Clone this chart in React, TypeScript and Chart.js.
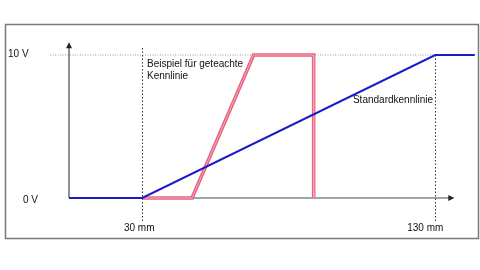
import React, { useEffect, useRef } from "react";
import { Chart, registerables } from "chart.js";

Chart.register(...registerables);

const standardX = [5, 30, 130, 143.5];
const standardY = [0, 0, 10, 10];
const taughtX = [30, 47, 68, 88.5, 88.5];
const taughtY = [0, 0, 10, 10, 0];
const xTickValues = [30, 130];
const xTickLabels = ["30 mm", "130 mm"];
const yTickValues = [0, 10];
const yTickLabels = ["0 V", "10 V"];
const taughtLabel = ["Beispiel für geteachte", "Kennlinie"];
const standardLabel = "Standardkennlinie";

const FONT = '10px "Liberation Sans", Arial, sans-serif';

const decor = {
  id: "decor",
  beforeDatasetsDraw(chart: any) {
    const ctx = chart.ctx;
    const xs = chart.scales.x;
    const ys = chart.scales.y;
    const x0 = xs.getPixelForValue(5);
    const y0 = ys.getPixelForValue(0);
    ctx.save();
    ctx.strokeStyle = "#7a7a7a";
    ctx.lineWidth = 1.5;
    ctx.strokeRect(5.5, 24.5, 473, 214);
    const y10 = ys.getPixelForValue(yTickValues[1]);
    ctx.strokeStyle = "#9a9a9a";
    ctx.lineWidth = 1;
    ctx.setLineDash([1, 1.5]);
    ctx.beginPath();
    ctx.moveTo(50, y10);
    ctx.lineTo(xs.getPixelForValue(xTickValues[1]), y10);
    ctx.stroke();
    ctx.strokeStyle = "#333";
    ctx.setLineDash([1.5, 2]);
    ctx.beginPath();
    const xa = Math.round(xs.getPixelForValue(xTickValues[0])) + 0.5;
    ctx.moveTo(xa, 48);
    ctx.lineTo(xa, 222);
    const xb = Math.round(xs.getPixelForValue(xTickValues[1])) + 0.5;
    ctx.moveTo(xb, y10);
    ctx.lineTo(xb, 222);
    ctx.stroke();
    ctx.setLineDash([]);
    ctx.strokeStyle = "#4a4a4a";
    ctx.fillStyle = "#222";
    ctx.lineWidth = 1.2;
    const xEnd = xs.getPixelForValue(136.5);
    const yTop = ys.getPixelForValue(10.9);
    ctx.beginPath();
    ctx.moveTo(x0, y0);
    ctx.lineTo(xEnd - 4, y0);
    ctx.moveTo(x0, y0);
    ctx.lineTo(x0, yTop + 4);
    ctx.stroke();
    ctx.beginPath();
    ctx.moveTo(xEnd, y0);
    ctx.lineTo(xEnd - 6, y0 - 3);
    ctx.lineTo(xEnd - 6, y0 + 3);
    ctx.closePath();
    ctx.fill();
    ctx.beginPath();
    ctx.moveTo(x0, yTop);
    ctx.lineTo(x0 - 3, yTop + 6);
    ctx.lineTo(x0 + 3, yTop + 6);
    ctx.closePath();
    ctx.fill();
    ctx.restore();
  },
  afterDraw(chart: any) {
    const ctx = chart.ctx;
    const xs = chart.scales.x;
    const ys = chart.scales.y;
    ctx.save();
    ctx.font = FONT;
    ctx.fillStyle = "#111";
    ctx.textBaseline = "middle";
    ctx.textAlign = "left";
    ctx.fillText(yTickLabels[1], 8, ys.getPixelForValue(yTickValues[1]) - 1);
    ctx.fillText(yTickLabels[0], 23, ys.getPixelForValue(yTickValues[0]) + 2);
    ctx.textAlign = "center";
    ctx.fillText(xTickLabels[0], xs.getPixelForValue(xTickValues[0]) - 3, 228);
    ctx.fillText(xTickLabels[1], xs.getPixelForValue(xTickValues[1]) - 10, 228);
    ctx.textAlign = "left";
    ctx.fillText(taughtLabel[0], 147, 64);
    ctx.fillText(taughtLabel[1], 147, 76);
    ctx.textAlign = "right";
    ctx.fillText(standardLabel, 433, 100);
    ctx.restore();
  },
};

export default function App() {
  const ref = useRef<HTMLCanvasElement>(null);
  useEffect(() => {
    if (!ref.current) return;
    const chart = new Chart(ref.current, {
      type: "line",
      data: {
        datasets: [
          {
            data: taughtX.map((x, i) => ({ x, y: taughtY[i] })),
            borderColor: "#e8607e",
            borderWidth: 3.6,
            pointRadius: 0,
            fill: false,
            tension: 0,
            clip: false,
            order: 3,
          } as any,
          {
            data: taughtX.map((x, i) => ({ x, y: taughtY[i] })),
            borderColor: "#f4aabb",
            borderWidth: 1,
            pointRadius: 0,
            fill: false,
            tension: 0,
            clip: false,
            order: 2,
          } as any,
          {
            data: standardX.map((x, i) => ({ x, y: standardY[i] })),
            borderColor: "#1a1ac8",
            borderWidth: 2,
            pointRadius: 0,
            fill: false,
            tension: 0,
            clip: false,
            order: 1,
          } as any,
        ],
      },
      options: {
        responsive: false,
        animation: false,
        layout: { padding: { left: 69, right: 480 - (69 + 139 * 2.93), top: 198 - 11 * 14.3, bottom: 72 } },
        scales: {
          x: { type: "linear", min: 5, max: 144, display: false },
          y: { type: "linear", min: 0, max: 11, display: false },
        },
        plugins: { legend: { display: false }, tooltip: { enabled: false } },
      },
      plugins: [decor],
    });
    return () => chart.destroy();
  }, []);
  return (
    <div style={{ position: "fixed", left: 0, top: 0, width: 480, height: 270, background: "#fff" }}>
      <canvas ref={ref} width={480} height={270} />
    </div>
  );
}
